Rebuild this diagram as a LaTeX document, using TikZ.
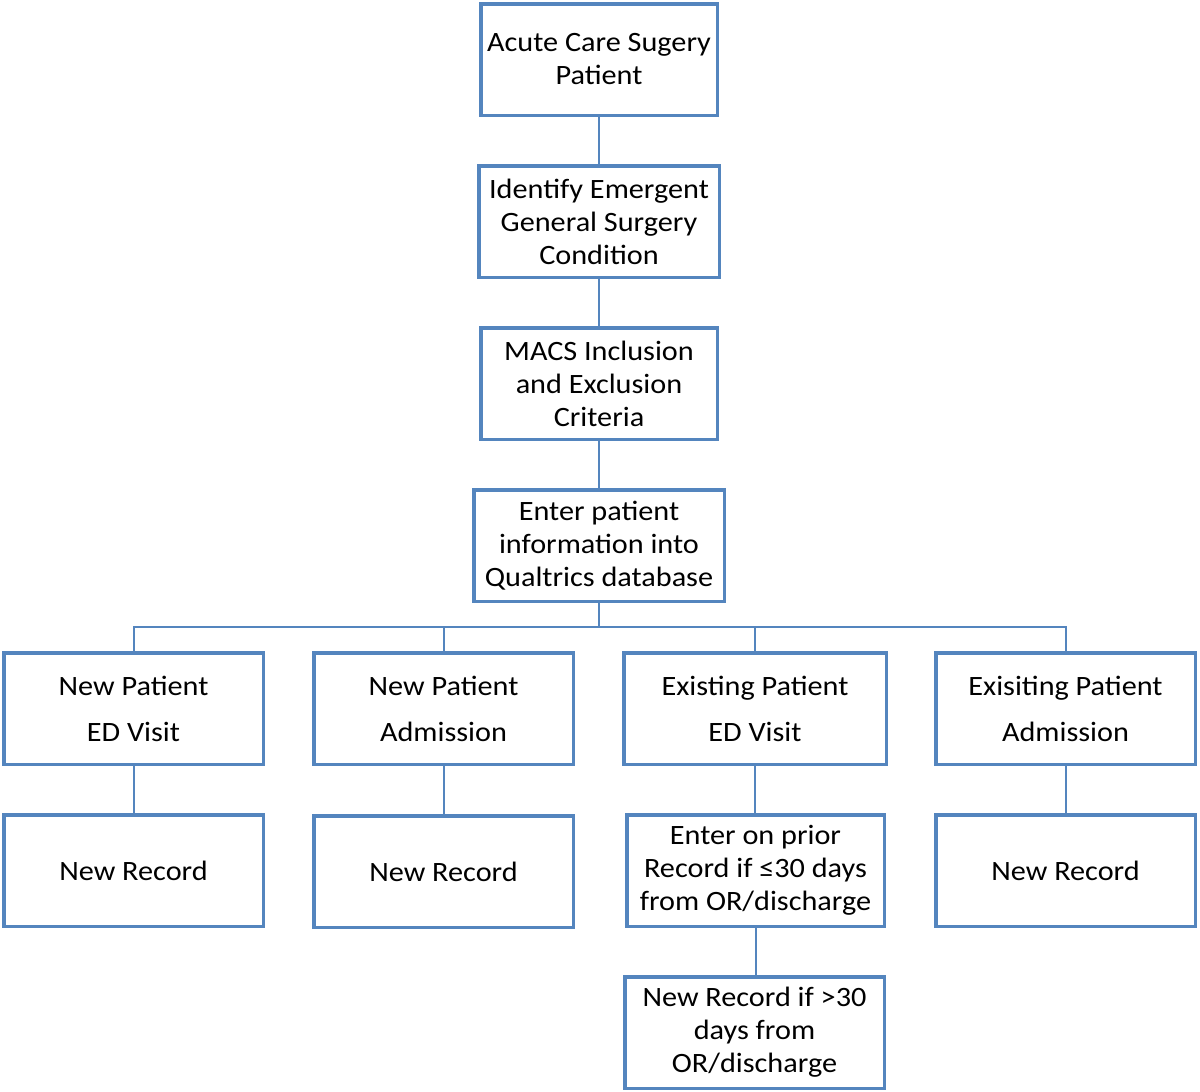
\documentclass[tikz,border=0pt]{standalone}
\usepackage{fontspec}
\setmainfont{Carlito}[FakeStretch=1.08]
\definecolor{boxblue}{RGB}{84,133,190}
\begin{document}
\begin{tikzpicture}[x=1pt,y=1pt,
  box/.style={draw=boxblue,line width=3.5pt,fill=white,align=center,inner sep=0pt,
    font=\fontsize{28}{33}\selectfont},
  wide/.style={box,font=\fontsize{28}{46}\selectfont},
  conn/.style={draw=boxblue,line width=2pt}]
\useasboundingbox (0,0) rectangle (1200,-1092);
% top column
\node[box,minimum width=236.5,minimum height=111.5] (acute) at (599,-59.5) {Acute Care Sugery\\Patient};
\node[box,minimum width=240.5,minimum height=111.5] (ident) at (599,-221.5) {Identify Emergent\\General Surgery\\Condition};
\node[box,minimum width=236.5,minimum height=111.5] (macs) at (599,-383.5) {MACS Inclusion\\and Exclusion\\Criteria};
\node[box,minimum width=250.5,minimum height=111.5] (enter) at (599,-545.5) {Enter patient\\information into\\Qualtrics database};
% first row
\node[wide,minimum width=259.5,minimum height=111.5] (npe) at (133.5,-708.5) {New Patient\\ED Visit};
\node[wide,minimum width=259.5,minimum height=111.5] (npa) at (443.5,-708.5) {New Patient\\Admission};
\node[wide,minimum width=262.5,minimum height=111.5] (epe) at (755,-708.5) {Existing Patient\\ED Visit};
\node[wide,minimum width=259.5,minimum height=111.5] (epa) at (1065.5,-708.5) {Exisiting Patient\\Admission};
% second row
\node[box,minimum width=259.5,minimum height=111.5] (nr1) at (133.5,-870.5) {New Record};
\node[box,minimum width=259.5,minimum height=111.5] (nr2) at (443.5,-871.5) {New Record};
\node[box,minimum width=257.5,minimum height=111.5] (prior) at (755.5,-870.5) {Enter on prior\\Record if ≤30 days\\from OR/discharge};
\node[box,minimum width=259.5,minimum height=111.5] (nr4) at (1065.5,-870.5) {New Record};
% third row
\node[box,minimum width=259.5,minimum height=111.5] (nr5) at (754.5,-1032.5) {New Record if >30\\days from\\OR/discharge};
% connectors
\coordinate (bus) at (599,-627);
\draw[conn] (acute.south) -- (ident.north);
\draw[conn] (ident.south) -- (macs.north);
\draw[conn] (macs.south) -- (enter.north);
\draw[conn] (enter.south) -- (bus);
\draw[conn] (npe.north) |- (bus) -| (epa.north);
\draw[conn] (npa.north) -- (npa.north |- bus);
\draw[conn] (epe.north) -- (epe.north |- bus);
\draw[conn] (npe.south) -- (nr1.north);
\draw[conn] (npa.south) -- (nr2.north);
\draw[conn] (epe.south) -- (epe.south |- prior.north);
\draw[conn] (epa.south) -- (nr4.north);
\draw[conn] (prior.south) -- (prior.south |- nr5.north);
\end{tikzpicture}
\end{document}
